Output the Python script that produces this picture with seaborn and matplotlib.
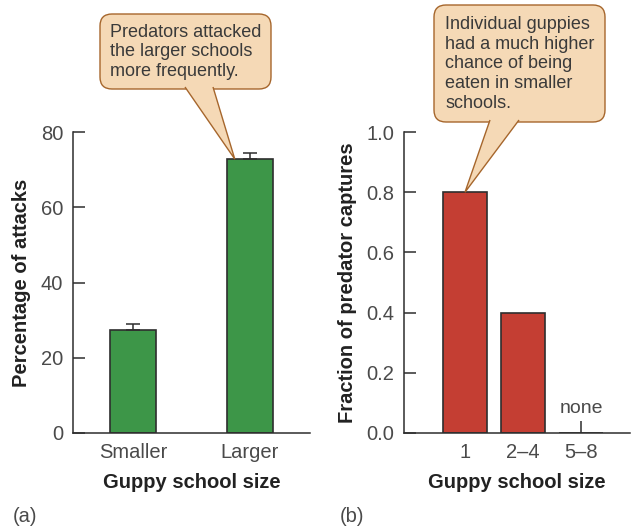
import numpy as np
import pandas as pd
import seaborn as sns
import matplotlib.pyplot as plt
from matplotlib.patches import FancyBboxPatch, Polygon
from matplotlib.transforms import IdentityTransform

# data
school_a = ['Smaller', 'Larger']
attacks_pct = [27.5, 72.8]
attacks_err = [1.6, 1.5]

school_b = ['1', '2\u20134', '5\u20138']
capture_frac = [0.8, 0.4, 0.0]

sns.set_theme(style="ticks")
plt.rcParams['font.family'] = ['Liberation Sans', 'DejaVu Sans']

W, H = 634, 529
green = '#3d9648'
red = '#c43e33'
dark = '#2e2e2e'
tick_grey = '#4a4a4a'
bubble_fill = '#f5d9b6'
bubble_edge = '#a6662c'

fig = plt.figure(figsize=(W / 100, H / 100), dpi=100)
ax1 = fig.add_axes([73 / W, 1 - 433 / H, (310 - 73) / W, (433 - 132) / H])
ax2 = fig.add_axes([404 / W, 1 - 433 / H, (630 - 404) / W, (433 - 132) / H])

df_a = pd.DataFrame({'size': school_a, 'pct': attacks_pct})
df_b = pd.DataFrame({'size': school_b, 'frac': capture_frac})

sns.barplot(data=df_a, x='size', y='pct', color=green, saturation=1, width=0.4,
            edgecolor=dark, linewidth=1.2, ax=ax1)
ax1.errorbar(x=np.arange(len(school_a)), y=attacks_pct, yerr=[[0] * len(attacks_err), attacks_err],
             fmt='none', ecolor=dark, elinewidth=1.1, capsize=5, capthick=1.1, zorder=3)

sns.barplot(data=df_b, x='size', y='frac', color=red, saturation=1, width=0.75,
            edgecolor=dark, linewidth=1.2, ax=ax2)
ax2.text(2, 0.08, 'none', ha='center', va='center', fontsize=14, color=tick_grey)

ax1.set_ylim(0, 80)
ax1.set_yticks([0, 20, 40, 60, 80])
ax1.set_xlim(-0.513, 1.513)
ax2.set_ylim(0, 1.0)
ax2.set_yticks([0, 0.2, 0.4, 0.6, 0.8, 1.0])
ax2.set_yticklabels(['0.0', '0.2', '0.4', '0.6', '0.8', '1.0'])
ax2.set_xlim(-1.05, 2.84)

for ax in (ax1, ax2):
    sns.despine(ax=ax)
    for s in ('left', 'bottom'):
        ax.spines[s].set_linewidth(1.1)
        ax.spines[s].set_color(dark)
    ax.tick_params(direction='in', length=8.5, width=1.1, color=dark,
                   labelsize=14.5, labelcolor=tick_grey, pad=7)
    ax.set_xlabel('Guppy school size', fontsize=14.5, fontweight='bold', color='#222222', labelpad=8)

ax1.set_ylabel('Percentage of attacks', fontsize=14.5, fontweight='bold', color='#222222', labelpad=7)
ax2.set_ylabel('Fraction of predator captures', fontsize=14.5, fontweight='bold', color='#222222', labelpad=7)

fig.text(13 / W, 1 - 517 / H, '(a)', fontsize=14.5, color=tick_grey, va='center')
fig.text(340 / W, 1 - 517 / H, '(b)', fontsize=14.5, color=tick_grey, va='center')


def callout(ax, text, box, base, tip, text_xy):
    # box / base / text_xy in image pixels (top-left origin), tip in data coords
    x0, y0, x1, y1 = box
    tr = IdentityTransform()
    rect = FancyBboxPatch((x0, H - y1), x1 - x0, y1 - y0,
                          boxstyle='round,pad=0,rounding_size=12',
                          facecolor=bubble_fill, edgecolor=bubble_edge, linewidth=1.0,
                          transform=tr, zorder=10)
    fig.add_artist(rect)
    tx, ty = ax.transData.transform(tip)
    pts = [(base[0], H - base[2] + 2), (tx, ty), (base[1], H - base[2] + 2)]
    ptr = Polygon(pts, closed=False, facecolor=bubble_fill, edgecolor=bubble_edge,
                  linewidth=1.0, transform=tr, zorder=11)
    fig.add_artist(ptr)
    fig.text(text_xy[0] / W, 1 - text_xy[1] / H, text, ha='left', va='center',
             fontsize=13, color='#3a3a3a', linespacing=1.2, zorder=12)


callout(ax1, 'Predators attacked\nthe larger schools\nmore frequently.',
        (100, 14, 271, 89), (185, 213, 89), (1 - 0.13, attacks_pct[1]), (110, 52))
callout(ax2, 'Individual guppies\nhad a much higher\nchance of being\neaten in smaller\nschools.',
        (434, 5, 605, 122), (490, 519, 122), (0, capture_frac[0]), (445, 64))

fig.savefig('out.png', dpi=100)
